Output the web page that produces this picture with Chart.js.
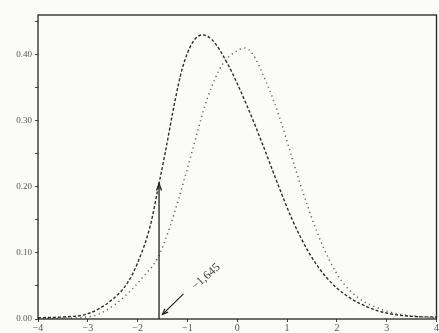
<!DOCTYPE html>
<html><head><meta charset="utf-8">
<script src="https://cdn.jsdelivr.net/npm/chart.js@4"></script>
<style>html,body{margin:0;padding:0;background:#fbfbf9;}#w{width:439px;height:333px;}</style>
</head><body><div id="w"><canvas id="c"></canvas></div>
<script>
const dashedX = [-4,-3.5,-3.0,-2.55,-2.2,-2.0,-1.75,-1.57,-1.45,-1.25,-1.1,-0.9,-0.7,-0.5,-0.2,0.2,0.5,0.8,1.1,1.45,1.8,2.2,2.65,3.0,3.5,4.0];
const dashedY = [0.002,0.003,0.008,0.027,0.055,0.085,0.14,0.205,0.25,0.33,0.38,0.418,0.43,0.422,0.387,0.322,0.266,0.207,0.151,0.099,0.062,0.035,0.017,0.009,0.004,0.003];
const dottedX = [-4,-3.0,-2.55,-2.15,-1.9,-1.6,-1.35,-1.0,-0.8,-0.6,-0.3,0.0,0.15,0.3,0.6,0.85,1.1,1.3,1.6,1.85,2.1,2.45,2.85,3.2,3.6,4.0];
const dottedY = [0.001,0.003,0.017,0.042,0.063,0.092,0.14,0.228,0.283,0.334,0.385,0.406,0.41,0.402,0.355,0.305,0.244,0.196,0.132,0.089,0.057,0.031,0.016,0.008,0.004,0.002];
const xTickLabels = ['−4','−3','−2','−1','0','1','2','3','4'];
const critX = -1.57, critY = 0.205;
const critLabel = '−1,645';

const toPts = (xs, ys) => xs.map((x, i) => ({x, y: ys[i]}));

const annot = {
  id: 'annot',
  afterDatasetsDraw(chart) {
    const {ctx, chartArea: a, scales: {x, y}} = chart;
    ctx.save();
    ctx.strokeStyle = '#222'; ctx.lineWidth = 1.3;
    ctx.strokeRect(a.left, a.top, a.right - a.left, a.bottom - a.top);
    const px = x.getPixelForValue(critX), py0 = y.getPixelForValue(0), py1 = y.getPixelForValue(critY);
    ctx.beginPath(); ctx.moveTo(px, py0); ctx.lineTo(px, py1); ctx.stroke();
    ctx.beginPath(); ctx.moveTo(px - 2.5, py1 + 7); ctx.lineTo(px, py1); ctx.lineTo(px + 2.5, py1 + 7); ctx.stroke();
    const ax0 = x.getPixelForValue(-1.08), ay0 = y.getPixelForValue(0.038);
    const ax1 = x.getPixelForValue(-1.5), ay1 = y.getPixelForValue(0.007);
    ctx.lineWidth = 1.2;
    ctx.beginPath(); ctx.moveTo(ax0, ay0); ctx.lineTo(ax1, ay1); ctx.stroke();
    const ang = Math.atan2(ay1 - ay0, ax1 - ax0);
    ctx.beginPath();
    ctx.moveTo(ax1 - 6*Math.cos(ang - 0.4), ay1 - 6*Math.sin(ang - 0.4));
    ctx.lineTo(ax1, ay1);
    ctx.lineTo(ax1 - 6*Math.cos(ang + 0.4), ay1 - 6*Math.sin(ang + 0.4));
    ctx.stroke();
    const tx = x.getPixelForValue(-0.88), ty = y.getPixelForValue(0.047);
    ctx.translate(tx, ty); ctx.rotate(-0.72);
    ctx.fillStyle = '#444'; ctx.font = '12px "Liberation Serif"';
    ctx.textAlign = 'left'; ctx.textBaseline = 'middle';
    ctx.fillText(critLabel, 0, 0);
    ctx.restore();
  }
};

new Chart(document.getElementById('c'), {
  type: 'scatter',
  data: {
    datasets: [
      {data: toPts(dashedX, dashedY), showLine: true, cubicInterpolationMode: 'monotone', pointRadius: 0,
       borderColor: '#2e2e2e', borderWidth: 1.4, borderDash: [3, 2]},
      {data: toPts(dottedX, dottedY), showLine: true, cubicInterpolationMode: 'monotone', pointRadius: 0,
       borderColor: '#666', borderWidth: 1.5, borderDash: [1.2, 3.5]}
    ]
  },
  options: {
    responsive: true, maintainAspectRatio: false, animation: false,
    layout: {padding: {top: 15, right: 2, left: 0, bottom: 0}},
    plugins: {legend: {display: false}, tooltip: {enabled: false}},
    scales: {
      x: {
        type: 'linear', min: -4, max: 4,
        border: {display: false},
        grid: {drawOnChartArea: false, tickLength: 3, color: '#444'},
        ticks: {stepSize: 1, color: '#555', font: {family: 'Liberation Serif', size: 10}, padding: 0,
                maxRotation: 0, autoSkip: false,
                callback: (v) => xTickLabels[Math.round(v) + 4]},
        afterFit: (s) => { s.height = 14; }
      },
      y: {
        type: 'linear', min: 0, max: 0.46,
        border: {display: false},
        grid: {drawOnChartArea: false, tickLength: 3, color: '#444'},
        ticks: {stepSize: 0.05, includeBounds: false, color: '#555', font: {family: 'Liberation Serif', size: 9}, padding: 3,
                autoSkip: false,
                callback: (v) => (Math.abs(Math.round(v * 10) - v * 10) < 1e-6 ? v.toFixed(2) : '')},
        afterFit: (s) => { s.width = 38; }
      }
    }
  },
  plugins: [annot]
});
</script>
</body></html>
